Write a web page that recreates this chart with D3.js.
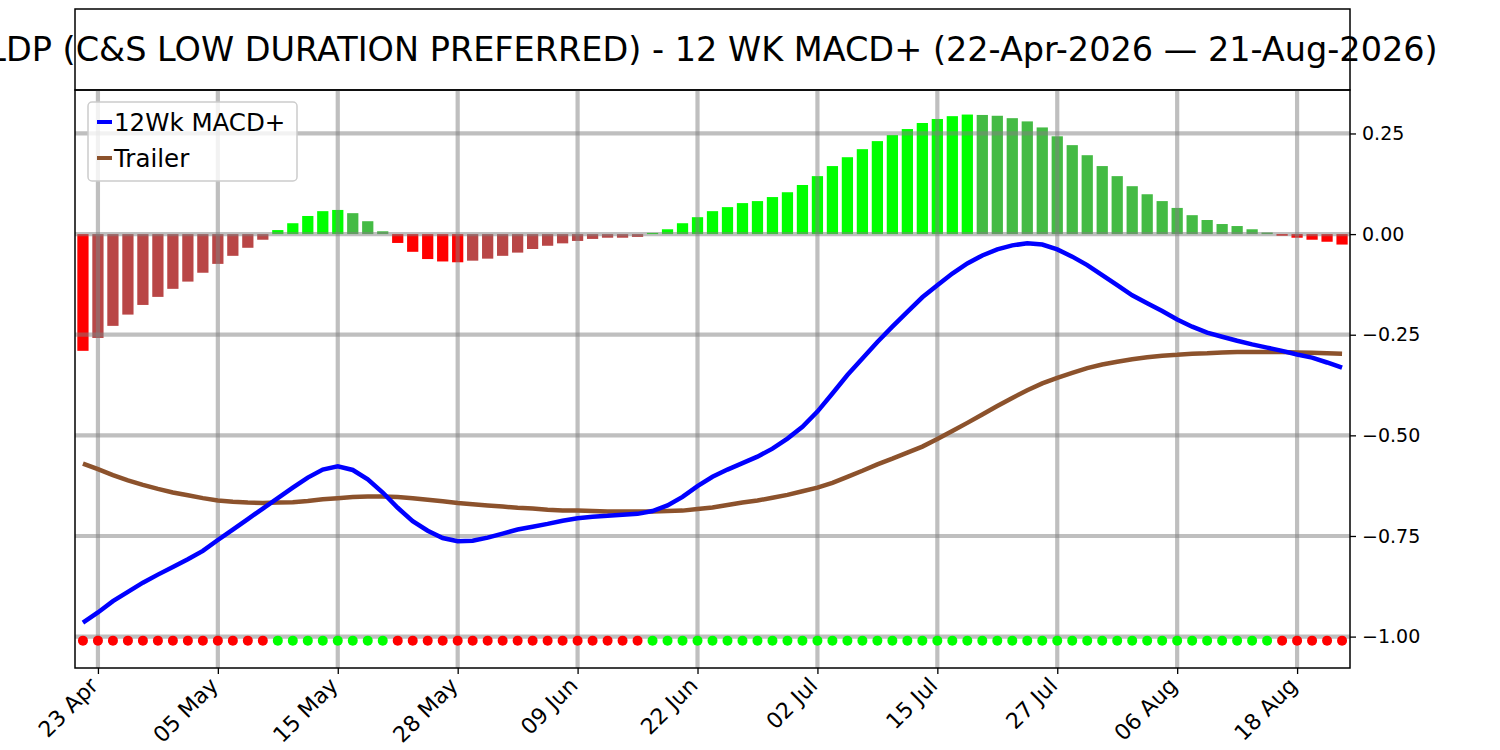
<!DOCTYPE html>
<html>

<head>
    <meta charset="utf-8">
    <script src="https://d3js.org/d3.v7.min.js"></script>
    <style>
      body {
          margin: 0;
          background: #fff;
          font-family: "DejaVu Sans", sans-serif;
      }
      text { font-family: "DejaVu Sans", sans-serif; fill: #000; }
      .axis path, .axis line { stroke: #000; stroke-width: 1.3; }
      .axis text { font-size: 19px; }
      .x.axis text { font-size: 22px; }
      .grid line { stroke: #808080; stroke-opacity: 0.5; stroke-width: 4.2; }
    </style>
</head>

<body>
    <script>

        // trading days shown on the chart
        var dates = [
            "2026-04-22", "2026-04-23", "2026-04-24", "2026-04-27", "2026-04-28", "2026-04-29", "2026-04-30",
            "2026-05-01", "2026-05-04", "2026-05-05", "2026-05-06", "2026-05-07", "2026-05-08", "2026-05-11",
            "2026-05-12", "2026-05-13", "2026-05-14", "2026-05-15", "2026-05-18", "2026-05-19", "2026-05-20",
            "2026-05-21", "2026-05-22", "2026-05-26", "2026-05-27", "2026-05-28", "2026-05-29",
            "2026-06-01", "2026-06-02", "2026-06-03", "2026-06-04", "2026-06-05", "2026-06-08", "2026-06-09",
            "2026-06-10", "2026-06-11", "2026-06-12", "2026-06-15", "2026-06-16", "2026-06-17", "2026-06-18",
            "2026-06-22", "2026-06-23", "2026-06-24", "2026-06-25", "2026-06-26", "2026-06-29", "2026-06-30",
            "2026-07-01", "2026-07-02", "2026-07-06", "2026-07-07", "2026-07-08", "2026-07-09", "2026-07-10",
            "2026-07-13", "2026-07-14", "2026-07-15", "2026-07-16", "2026-07-17", "2026-07-20", "2026-07-21",
            "2026-07-22", "2026-07-23", "2026-07-24", "2026-07-27", "2026-07-28", "2026-07-29", "2026-07-30",
            "2026-07-31", "2026-08-03", "2026-08-04", "2026-08-05", "2026-08-06", "2026-08-07", "2026-08-10",
            "2026-08-11", "2026-08-12", "2026-08-13", "2026-08-14", "2026-08-17", "2026-08-18", "2026-08-19",
            "2026-08-20", "2026-08-21"
        ];

        // histogram (bars)
        var hist = [
            -0.290, -0.258, -0.228, -0.200, -0.176, -0.156, -0.136, -0.118, -0.096, -0.074,
            -0.054, -0.034, -0.014, 0.010, 0.027, 0.045, 0.057, 0.060, 0.052, 0.032,
            0.007, -0.022, -0.044, -0.062, -0.068, -0.070, -0.066, -0.061, -0.054, -0.046,
            -0.037, -0.029, -0.023, -0.017, -0.012, -0.009, -0.009, -0.007, 0.003, 0.012,
            0.027, 0.042, 0.057, 0.067, 0.077, 0.082, 0.092, 0.104, 0.122, 0.144,
            0.169, 0.191, 0.211, 0.231, 0.246, 0.261, 0.276, 0.286, 0.293, 0.297,
            0.296, 0.294, 0.288, 0.280, 0.265, 0.243, 0.221, 0.196, 0.169, 0.144,
            0.119, 0.099, 0.082, 0.065, 0.047, 0.035, 0.025, 0.020, 0.012, 0.004,
            -0.004, -0.009, -0.014, -0.019, -0.026
        ];

        // 12Wk MACD+ line
        var macd = [
            -0.965, -0.940, -0.912, -0.889, -0.866, -0.846, -0.827, -0.808, -0.787, -0.760,
            -0.734, -0.708, -0.682, -0.656, -0.630, -0.605, -0.585, -0.577, -0.586, -0.609,
            -0.642, -0.680, -0.713, -0.737, -0.755, -0.763, -0.762, -0.754, -0.744, -0.734,
            -0.727, -0.720, -0.712, -0.706, -0.702, -0.700, -0.697, -0.695, -0.688, -0.674,
            -0.653, -0.626, -0.603, -0.585, -0.569, -0.553, -0.533, -0.508, -0.479, -0.441,
            -0.396, -0.350, -0.309, -0.268, -0.230, -0.193, -0.157, -0.127, -0.098, -0.073,
            -0.053, -0.038, -0.028, -0.023, -0.026, -0.038, -0.056, -0.077, -0.102, -0.127,
            -0.152, -0.172, -0.191, -0.212, -0.230, -0.245, -0.255, -0.265, -0.274, -0.282,
            -0.290, -0.299, -0.307, -0.319, -0.332
        ];

        // Trailer line
        var trailer = [
            -0.570, -0.584, -0.599, -0.612, -0.623, -0.633, -0.642, -0.649, -0.656, -0.662,
            -0.665, -0.667, -0.668, -0.667, -0.666, -0.663, -0.659, -0.656, -0.653, -0.652,
            -0.652, -0.653, -0.656, -0.660, -0.664, -0.668, -0.671, -0.674, -0.677, -0.680,
            -0.682, -0.685, -0.687, -0.687, -0.688, -0.689, -0.689, -0.689, -0.689, -0.688,
            -0.687, -0.683, -0.679, -0.673, -0.667, -0.662, -0.655, -0.648, -0.639, -0.630,
            -0.618, -0.603, -0.588, -0.572, -0.558, -0.543, -0.528, -0.509, -0.489, -0.469,
            -0.448, -0.427, -0.407, -0.388, -0.371, -0.357, -0.345, -0.333, -0.324, -0.317,
            -0.311, -0.306, -0.302, -0.300, -0.297, -0.296, -0.294, -0.293, -0.293, -0.293,
            -0.293, -0.294, -0.295, -0.296, -0.297
        ];

        var yTicks = [0.25, 0.00, -0.25, -0.50, -0.75, -1.00];
        var xTickIdx = [1, 9, 17, 25, 33, 41, 49, 57, 65, 73, 81];
        var dotLevel = -1.01;
        var titleText = "LDP (C&S LOW DURATION PREFERRED) - 12 WK MACD+ (22-Apr-2026 \u2014 21-Aug-2026)";

        var W = 1500, H = 750;
        var pLeft = 75, pRight = 1350, pTop = 90, pBottom = 668;

        var svg = d3.select("body").append("svg").attr("width", W).attr("height", H);

        var parse = d3.timeParse("%Y-%m-%d");
        var fmt = d3.timeFormat("%d %b");

        var x = d3.scaleLinear().domain([-0.53, dates.length - 1 + 0.53]).range([pLeft, pRight]);
        var y = d3.scaleLinear().domain([-1.078, 0.358]).range([pBottom, pTop]);
        var barW = x(0.75) - x(0);

        // bar colour: bright while moving away from zero, dull while coming back
        function barColor(d, i) {
            var prev = i > 0 ? hist[i - 1] : 0;
            if (d >= 0) return d >= prev ? "#00ff00" : "#44bb44";
            return d < prev ? "#ff0000" : "#b94646";
        }

        // title box
        svg.append("rect")
            .attr("x", pLeft).attr("y", 9)
            .attr("width", pRight - pLeft).attr("height", pTop - 9)
            .attr("fill", "#fff").attr("stroke", "#000").attr("stroke-width", 1.5);

        var plot = svg.append("g");

        // bars
        plot.selectAll("rect.bar")
            .data(hist).enter()
            .append("rect")
            .attr("class", "bar")
            .attr("x", (d, i) => x(i) - barW / 2)
            .attr("width", barW)
            .attr("y", d => y(Math.max(0, d)))
            .attr("height", d => Math.abs(y(d) - y(0)))
            .attr("fill", barColor);

        // grid on top of bars
        var grid = plot.append("g").attr("class", "grid");
        grid.selectAll("line.v")
            .data(xTickIdx).enter()
            .append("line")
            .attr("x1", d => x(d)).attr("x2", d => x(d))
            .attr("y1", pTop).attr("y2", pBottom);
        grid.selectAll("line.h")
            .data(yTicks).enter()
            .append("line")
            .attr("x1", pLeft).attr("x2", pRight)
            .attr("y1", d => y(d)).attr("y2", d => y(d));

        // sign dots
        plot.selectAll("circle.dot")
            .data(hist).enter()
            .append("circle")
            .attr("class", "dot")
            .attr("cx", (d, i) => x(i))
            .attr("cy", y(dotLevel))
            .attr("r", 5)
            .attr("fill", d => d >= 0 ? "#00ff00" : "#ff0000");

        var line = d3.line().x((d, i) => x(i)).y(d => y(d));

        plot.append("path")
            .datum(trailer)
            .attr("fill", "none")
            .attr("stroke", "#8c522c")
            .attr("stroke-width", 4.5)
            .attr("d", line);

        plot.append("path")
            .datum(macd)
            .attr("fill", "none")
            .attr("stroke", "#0000ff")
            .attr("stroke-width", 4.5)
            .attr("d", line);

        // axes
        svg.append("g")
            .attr("class", "y axis")
            .attr("transform", `translate(${pRight},0)`)
            .call(d3.axisRight(y).tickValues(yTicks).tickFormat(d3.format(".2f")).tickSize(6).tickPadding(6))
            .call(g => g.select(".domain").remove());

        var xAxis = svg.append("g")
            .attr("class", "x axis")
            .attr("transform", `translate(0,${pBottom})`)
            .call(d3.axisBottom(x).tickValues(xTickIdx).tickFormat(i => fmt(parse(dates[i]))).tickSize(6))
            .call(g => g.select(".domain").remove());

        xAxis.selectAll("text")
            .attr("text-anchor", "end")
            .attr("dy", null)
            .attr("y", null)
            .attr("transform", "translate(1,19) rotate(-45)");

        // frame of the plot area
        svg.append("rect")
            .attr("x", pLeft).attr("y", pTop)
            .attr("width", pRight - pLeft).attr("height", pBottom - pTop)
            .attr("fill", "none").attr("stroke", "#000").attr("stroke-width", 1.5);

        // title
        svg.append("text")
            .attr("x", (pLeft + pRight) / 2)
            .attr("y", 61)
            .attr("text-anchor", "middle")
            .style("font-size", "33.5px")
            .text(titleText);

        // legend
        var legend = svg.append("g").attr("transform", "translate(88,102)");
        legend.append("rect")
            .attr("width", 209).attr("height", 79).attr("rx", 4)
            .attr("fill", "#fff").attr("fill-opacity", 0.8)
            .attr("stroke", "#cccccc").attr("stroke-width", 1.5);

        var items = [{ name: "12Wk MACD+", color: "#0000ff" }, { name: "Trailer", color: "#8c522c" }];
        var row = legend.selectAll("g.item")
            .data(items).enter()
            .append("g")
            .attr("transform", (d, i) => `translate(0,${20 + i * 36})`);
        row.append("line")
            .attr("x1", 9).attr("x2", 24)
            .attr("stroke", d => d.color).attr("stroke-width", 4);
        row.append("text")
            .attr("x", 26).attr("y", 9)
            .style("font-size", "24.5px")
            .text(d => d.name);

    </script>
</body>

</html>
